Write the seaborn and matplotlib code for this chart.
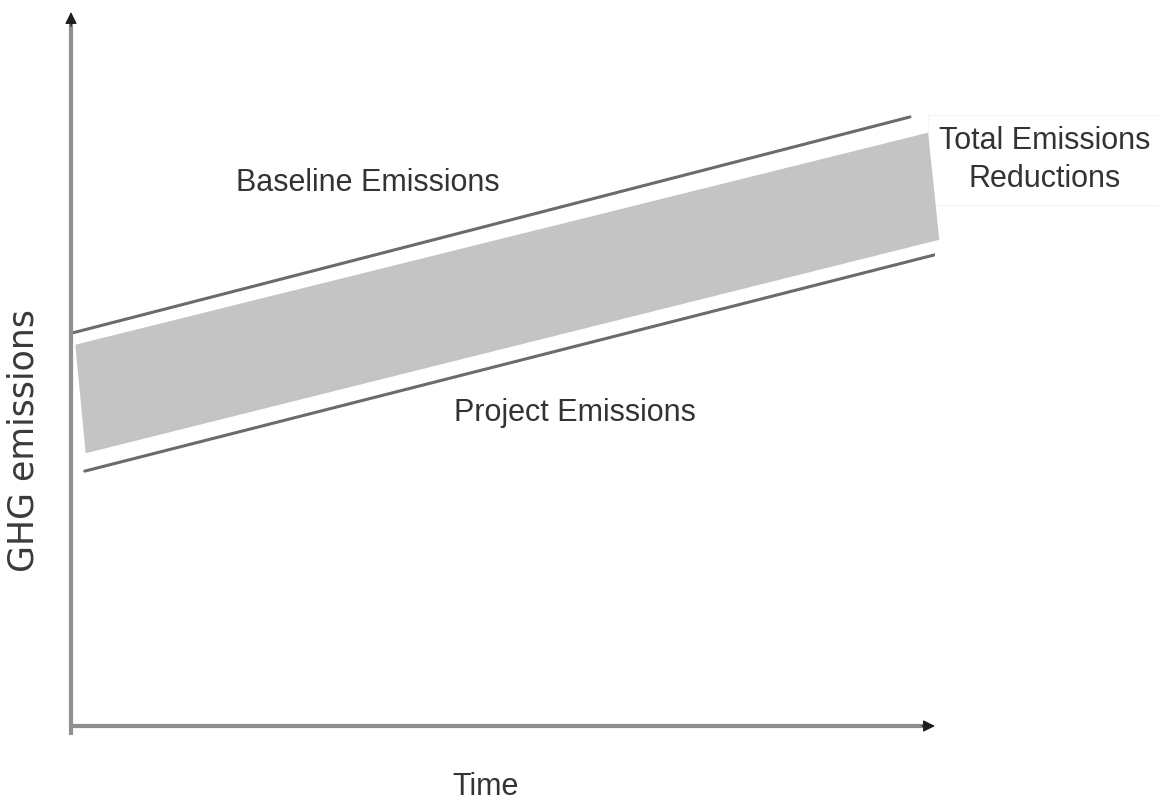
"""Schematic of baseline vs project GHG emissions over time."""

import matplotlib
matplotlib.use("Agg")
import pandas as pd
import seaborn as sns
from matplotlib import pyplot as plt

# time runs 0..10 along the x axis, emissions 0..10 up the y axis
baseline_time = [0.0, 9.71]
baseline_emissions = [5.50, 8.53]
project_time = [0.16, 10.0]
project_emissions = [3.57, 6.60]

# shaded reduction band (corners: top-left, top-right, bottom-right, bottom-left)
band_time = [0.05, 9.92, 10.05, 0.17]
band_emissions = [5.34, 8.31, 6.81, 3.82]

labels = ["Baseline Emissions", "Project Emissions", "Total Emissions\nReductions"]
x_label = "Time"
y_label = "GHG emissions"

LINE_COLOR = "#6b6b6b"
BAND_COLOR = "#c4c4c4"
AXIS_COLOR = "#8f8f8f"
TEXT_COLOR = "#333333"

sns.set_style("white")
plt.rcParams["font.family"] = ["Liberation Sans Narrow", "Liberation Sans", "DejaVu Sans"]

fig = plt.figure(figsize=(11.59, 8.02), dpi=100)
ax = fig.add_axes([71 / 1159, 76 / 802, 864 / 1159, 714 / 802])
ax.set_xlim(0, 10)
ax.set_ylim(0, 10)

lines = pd.DataFrame(
    {
        "time": baseline_time + project_time,
        "emissions": baseline_emissions + project_emissions,
        "series": ["baseline"] * 2 + ["project"] * 2,
    }
)
ax.fill(band_time, band_emissions, color=BAND_COLOR, lw=0, zorder=1, clip_on=False)
sns.lineplot(
    data=lines, x="time", y="emissions", hue="series",
    palette=[LINE_COLOR, LINE_COLOR], linewidth=2.2, legend=False, ax=ax, zorder=2,
)

for side in ("top", "right", "left", "bottom"):
    ax.spines[side].set_visible(False)
ax.set_xticks([])
ax.set_yticks([])
ax.set_xlabel("")
ax.set_ylabel("")

# axis lines (grey) with small dark arrow heads
ax.plot([0, 0], [-0.013, 0.985], transform=ax.transAxes, color=AXIS_COLOR, lw=3,
        clip_on=False, solid_capstyle="butt")
ax.plot([0, 0.99], [0, 0], transform=ax.transAxes, color=AXIS_COLOR, lw=3,
        clip_on=False, solid_capstyle="butt")
head = dict(arrowstyle="-|>,head_length=0.7,head_width=0.35", color="#1e1e1e", lw=1,
            shrinkA=0, shrinkB=0)
ax.annotate("", xy=(0, 1.0), xytext=(0, 0.98), xycoords="axes fraction",
            arrowprops=head, annotation_clip=False)
ax.annotate("", xy=(1.0, 0), xytext=(0.985, 0), xycoords="axes fraction",
            arrowprops=head, annotation_clip=False)

ax.text(3.43, 7.60, labels[0], ha="center", va="center", fontsize=22, color=TEXT_COLOR)
ax.text(5.83, 4.38, labels[1], ha="center", va="center", fontsize=22, color=TEXT_COLOR)
ax.text(11.27, 7.93, labels[2], ha="center", va="center", fontsize=22, color=TEXT_COLOR,
        linespacing=1.35, clip_on=False, zorder=0.5,
        bbox=dict(boxstyle="square,pad=0.35", fc="white", ec="#f5f5f5", lw=1))

fig.text(486 / 1159, 1 - 787 / 802, x_label, ha="center", va="center", fontsize=22, color=TEXT_COLOR)
fig.text(24 / 1159, 1 - 440 / 802, y_label, ha="center", va="center", rotation=90,
         fontsize=25, color="#3a3a3a", family="DejaVu Sans")

fig.savefig("out.png", dpi=100)
